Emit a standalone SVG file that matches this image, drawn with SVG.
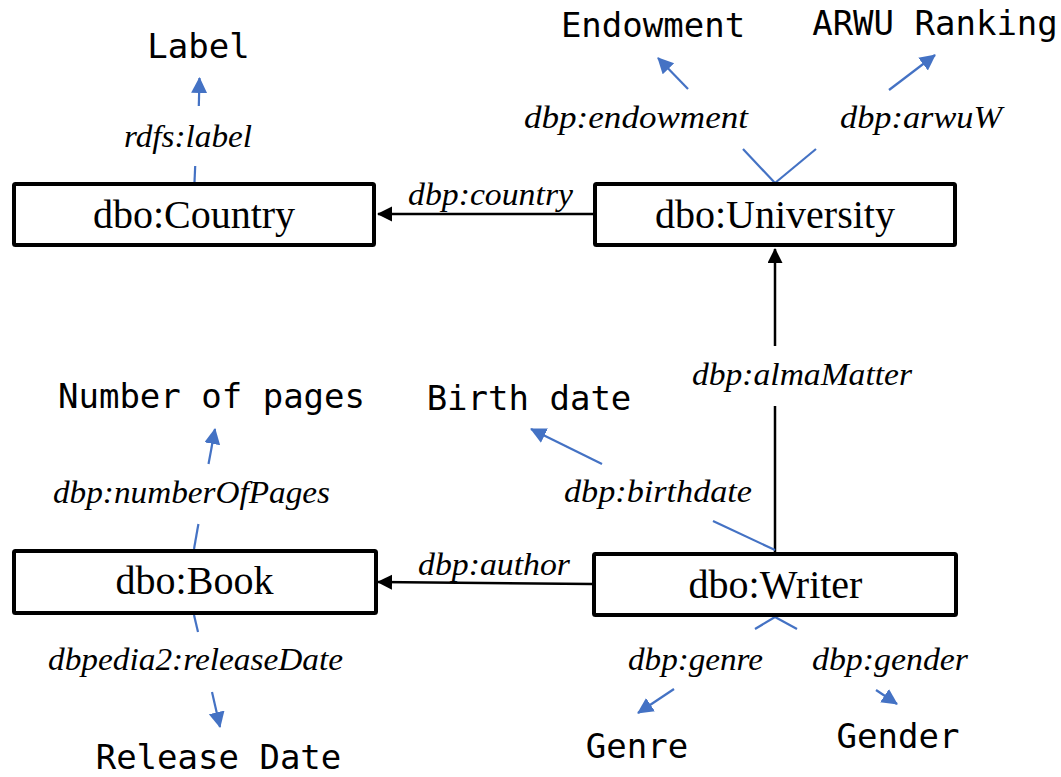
<svg xmlns="http://www.w3.org/2000/svg" width="1061" height="777" viewBox="0 0 1061 777">
  <style>
    .box { fill: #ffffff; stroke: #000000; stroke-width: 4; }
    .node-text { font-family: "Liberation Serif", "DejaVu Serif", serif; font-size: 40px; fill: #000000; text-anchor: middle; }
    .prop { font-family: "Liberation Serif", "DejaVu Serif", serif; font-style: italic; font-size: 32px; fill: #000000; }
    .value { font-family: "DejaVu Sans Mono", "Liberation Mono", monospace; font-size: 34px; fill: #000000; text-anchor: middle; }
    .rel { fill: none; stroke: #000000; stroke-width: 2.5; }
    .attr { fill: none; stroke: #4472C4; stroke-width: 2.2; }
  </style>
  <defs>
    <marker id="head-black" markerUnits="userSpaceOnUse" markerWidth="16" markerHeight="16" refX="14" refY="7.5" orient="auto">
      <path d="M0,0 L15,7.5 L0,15 z" fill="#000000"/>
    </marker>
    <marker id="head-blue" markerUnits="userSpaceOnUse" markerWidth="17" markerHeight="17" refX="15" refY="8" orient="auto">
      <path d="M0,0 L16,8 L0,16 z" fill="#4472C4"/>
    </marker>
  </defs>

  <!-- connectors -->
  <g id="connectors">
    <!-- object properties between classes -->
    <line class="rel" x1="593" y1="214" x2="378" y2="214" marker-end="url(#head-black)"/>
    <line class="rel" x1="592" y1="584" x2="378" y2="582" marker-end="url(#head-black)"/>
    <path class="rel" d="M775,552 L775,406"/>
    <path class="rel" d="M775,346 L775,249" marker-end="url(#head-black)"/>

    <!-- data properties: each line is split where its label sits -->
    <path class="attr" d="M194.5,182 L195.2,166"/>
    <path class="attr" d="M198.8,106 L199.5,78" marker-end="url(#head-blue)"/>

    <path class="attr" d="M775,183 L743,149"/>
    <path class="attr" d="M688,89 L658,58" marker-end="url(#head-blue)"/>

    <path class="attr" d="M775,183 L816,149"/>
    <path class="attr" d="M889,90 L935,55" marker-end="url(#head-blue)"/>

    <path class="attr" d="M194,549 L198.4,524"/>
    <path class="attr" d="M208.5,464 L215,429" marker-end="url(#head-blue)"/>

    <path class="attr" d="M194,615 L198,632"/>
    <path class="attr" d="M212,692 L220,727" marker-end="url(#head-blue)"/>

    <path class="attr" d="M775,550 L713,521"/>
    <path class="attr" d="M602,464 L531,429" marker-end="url(#head-blue)"/>

    <path class="attr" d="M775,617 L755,629"/>
    <path class="attr" d="M674,689 L638,713" marker-end="url(#head-blue)"/>

    <path class="attr" d="M775,617 L797,629"/>
    <path class="attr" d="M876,690 L897,704" marker-end="url(#head-blue)"/>
  </g>

  <!-- property labels -->
  <g id="property-labels">
    <text class="prop" x="408" y="205" textLength="165" lengthAdjust="spacingAndGlyphs">dbp:country</text>
    <text class="prop" x="418" y="575" textLength="152" lengthAdjust="spacingAndGlyphs">dbp:author</text>
    <text class="prop" x="692" y="385" textLength="220" lengthAdjust="spacingAndGlyphs">dbp:almaMatter</text>
    <text class="prop" x="124" y="147" textLength="128" lengthAdjust="spacingAndGlyphs">rdfs:label</text>
    <text class="prop" x="524" y="128" textLength="224" lengthAdjust="spacingAndGlyphs">dbp:endowment</text>
    <text class="prop" x="840" y="128" textLength="162" lengthAdjust="spacingAndGlyphs">dbp:arwuW</text>
    <text class="prop" x="53" y="503" textLength="277" lengthAdjust="spacingAndGlyphs">dbp:numberOfPages</text>
    <text class="prop" x="48" y="670" textLength="295" lengthAdjust="spacingAndGlyphs">dbpedia2:releaseDate</text>
    <text class="prop" x="564" y="502" textLength="188" lengthAdjust="spacingAndGlyphs">dbp:birthdate</text>
    <text class="prop" x="628" y="670" textLength="135" lengthAdjust="spacingAndGlyphs">dbp:genre</text>
    <text class="prop" x="812" y="670" textLength="156" lengthAdjust="spacingAndGlyphs">dbp:gender</text>
  </g>

  <!-- literal values -->
  <g id="values">
    <text class="value" x="198.5" y="58">Label</text>
    <text class="value" x="653" y="37">Endowment</text>
    <text class="value" x="935" y="35">ARWU Ranking</text>
    <text class="value" x="211.5" y="408">Number of pages</text>
    <text class="value" x="529" y="410">Birth date</text>
    <text class="value" x="218.5" y="769">Release Date</text>
    <text class="value" x="637" y="758">Genre</text>
    <text class="value" x="898" y="748">Gender</text>
  </g>

  <!-- class nodes -->
  <g id="node-country">
    <rect class="box" x="14" y="184" width="360" height="61" rx="1.5"/>
    <text class="node-text" x="194" y="228">dbo:Country</text>
  </g>
  <g id="node-university">
    <rect class="box" x="595" y="184" width="360" height="61" rx="1.5"/>
    <text class="node-text" x="775" y="228">dbo:University</text>
  </g>
  <g id="node-book">
    <rect class="box" x="14" y="551" width="362" height="62" rx="1.5"/>
    <text class="node-text" x="194.5" y="594">dbo:Book</text>
  </g>
  <g id="node-writer">
    <rect class="box" x="594" y="554" width="362" height="61" rx="1.5"/>
    <text class="node-text" x="775.5" y="598">dbo:Writer</text>
  </g>
</svg>
